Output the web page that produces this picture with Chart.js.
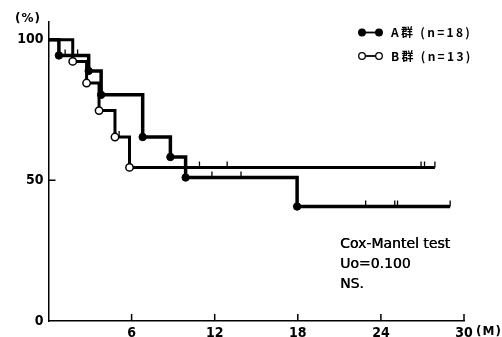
<!DOCTYPE html>
<html>
<head>
<meta charset="utf-8">
<script src="https://cdn.jsdelivr.net/npm/chart.js@4/dist/chart.umd.min.js"></script>
<style>
  html, body { margin: 0; padding: 0; background: #ffffff; }
  canvas { display: block; }
</style>
</head>
<body>
<canvas id="chart" width="502" height="337"></canvas>
<script>
// Survival data (months, % surviving)
const groupATimes = [0, 0.75, 2.9, 3.8, 6.8, 8.8, 9.9, 17.95, 29.0];
const groupASurvival = [100, 94.4, 88.9, 80.4, 65.4, 58.3, 51.0, 40.7, 40.7];
const groupBTimes = [0, 1.75, 2.75, 3.65, 4.8, 5.85, 27.9];
const groupBSurvival = [100, 92.3, 84.6, 74.8, 65.4, 54.6, 54.6];

// Censored cases (small vertical ticks)
const groupACensorTimes = [1.2, 2.1, 11.8, 13.9, 22.9, 25.0, 25.2, 29.0];
const groupACensorLevels = [94.4, 94.4, 51.0, 51.0, 40.7, 40.7, 40.7, 40.7];
const groupBCensorTimes = [5.1, 10.9, 12.9, 26.9, 27.15, 27.9];
const groupBCensorLevels = [65.4, 54.6, 54.6, 54.6, 54.6, 54.6];

const xTickValues = [6, 12, 18, 24, 30];
const yTickValues = [0, 50, 100];

const legendLabels = ['A群 (n=18)', 'B群 (n=13)'];
const testLines = ['Cox-Mantel test', 'Uo=0.100', 'NS.'];

const numFont = '"Liberation Sans Narrow", "DejaVu Sans Condensed", sans-serif';
const textFont = '"DejaVu Sans", sans-serif';

function toPoints(xs, ys) {
    return xs.map((x, i) => ({ x: x, y: ys[i] }));
}

// dots only where the curve drops
function dropRadii(xs) {
    return xs.map((x, i) => (i === 0 || i === xs.length - 1) ? 0 : 3.7);
}

const extrasPlugin = {
    id: 'extras',
    afterDraw(chart) {
        const ctx = chart.ctx;
        const xs = chart.scales.x;
        const ys = chart.scales.y;
        const area = chart.chartArea;

        ctx.save();
        // inward tick marks
        ctx.strokeStyle = '#000';
        ctx.lineWidth = 1.5;
        ctx.beginPath();
        xTickValues.forEach(v => {
            const px = xs.getPixelForValue(v);
            ctx.moveTo(px, area.bottom);
            ctx.lineTo(px, area.bottom - 7);
        });
        yTickValues.slice(1).forEach(v => {
            const py = ys.getPixelForValue(v);
            ctx.moveTo(area.left, py);
            ctx.lineTo(area.left + 7, py);
        });
        ctx.stroke();

        // unit labels
        ctx.fillStyle = '#000';
        ctx.textBaseline = 'middle';
        ctx.textAlign = 'left';
        ctx.font = 'bold 12px ' + textFont;
        ctx.letterSpacing = '1px';
        ctx.fillText('(%)', 15, 19);
        ctx.fillText('(M)', 476, 332);

        // legend
        const legendY = [32.5, 56];
        legendLabels.forEach((label, i) => {
            const y = legendY[i];
            ctx.beginPath();
            ctx.lineWidth = 1.8;
            ctx.moveTo(362, y);
            ctx.lineTo(379, y);
            ctx.stroke();
            [362, 379].forEach(cx => {
                ctx.beginPath();
                ctx.arc(cx, y, 3.3, 0, Math.PI * 2);
                ctx.fillStyle = i === 0 ? '#000' : '#fff';
                ctx.fill();
                ctx.lineWidth = 1.3;
                ctx.stroke();
            });
            ctx.fillStyle = '#000';
            ctx.font = 'bold 12px "Noto Sans CJK JP", sans-serif';
            ctx.letterSpacing = '2.3px';
            ctx.fillText(label, 391, y);
        });

        // test result
        ctx.letterSpacing = '0px';
        ctx.font = '14px ' + textFont;
        const testY = [244, 264, 284];
        testLines.forEach((line, i) => {
            ctx.fillText(line, 340, testY[i]);
            ctx.fillText(line, 340.4, testY[i]);
        });
        ctx.restore();
    }
};

new Chart(document.getElementById('chart').getContext('2d'), {
    type: 'line',
    data: {
        datasets: [
            {
                label: 'A群',
                data: toPoints(groupATimes, groupASurvival),
                stepped: true,
                borderColor: '#000',
                borderWidth: 3.5,
                pointRadius: dropRadii(groupATimes),
                pointBackgroundColor: '#000',
                pointBorderColor: '#000',
                pointBorderWidth: 1,
                fill: false
            },
            {
                label: 'B群',
                data: toPoints(groupBTimes, groupBSurvival),
                stepped: true,
                borderColor: '#000',
                borderWidth: 3,
                pointRadius: dropRadii(groupBTimes),
                pointBackgroundColor: '#fff',
                pointBorderColor: '#000',
                pointBorderWidth: 1.5,
                fill: false
            },
            {
                label: 'A censored',
                data: toPoints(groupACensorTimes, groupACensorLevels),
                showLine: false,
                pointStyle: 'dash',
                rotation: -90,
                pointRadius: 6,
                pointBorderColor: '#000',
                pointBorderWidth: 1.3
            },
            {
                label: 'B censored',
                data: toPoints(groupBCensorTimes, groupBCensorLevels),
                showLine: false,
                pointStyle: 'dash',
                rotation: -90,
                pointRadius: 6,
                pointBorderColor: '#000',
                pointBorderWidth: 1.3
            }
        ]
    },
    options: {
        responsive: false,
        animation: false,
        layout: { padding: { top: 22, right: 38, left: 0, bottom: 0 } },
        plugins: {
            legend: { display: false },
            tooltip: { enabled: false }
        },
        scales: {
            x: {
                type: 'linear',
                min: 0,
                max: 30,
                afterBuildTicks: axis => { axis.ticks = xTickValues.map(v => ({ value: v })); },
                afterFit: scale => { scale.height = 16; },
                grid: { display: false, drawTicks: false },
                border: { display: true, color: '#000', width: 1.5 },
                ticks: {
                    color: '#000',
                    padding: 4,
                    maxRotation: 0,
                    font: { family: numFont, size: 14, weight: 'bold' }
                }
            },
            y: {
                min: 0,
                max: 106.3,
                afterBuildTicks: axis => { axis.ticks = yTickValues.map(v => ({ value: v })); },
                afterFit: scale => { scale.width = 48.5; },
                grid: { display: false, drawTicks: false },
                border: { display: true, color: '#000', width: 1.5 },
                ticks: {
                    color: '#000',
                    padding: 5,
                    font: { family: numFont, size: 14, weight: 'bold' }
                }
            }
        }
    },
    plugins: [extrasPlugin]
});
</script>
</body>
</html>
